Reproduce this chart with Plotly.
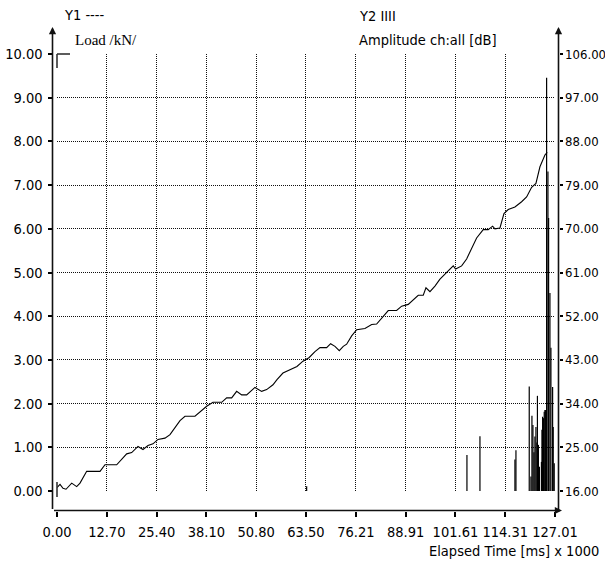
import plotly.graph_objects as go

# ---------------- data ----------------
load_time = [0.00, 0.77, 1.53, 2.30, 3.75, 5.02, 5.87, 7.57, 10.97, 12.24, 15.22, 17.77, 19.05,
             20.66, 21.93, 23.21, 24.48, 25.76, 27.54, 28.82, 31.37, 32.64, 35.19, 38.17, 39.78,
             42.00, 43.27, 44.55, 45.82, 47.10, 48.37, 50.49, 52.20, 53.47, 55.08, 56.10, 57.63,
             59.42, 61.20, 62.73, 64.26, 65.79, 67.07, 68.77, 69.79, 70.89, 71.99, 73.01, 73.87,
             75.15, 76.43, 78.54, 80.25, 81.52, 83.21, 84.48, 86.62, 87.90, 89.58, 92.13, 93.41,
             94.10, 95.12, 96.39, 97.67, 99.37, 101.06, 101.67, 103.20, 104.47, 105.75, 107.02,
             108.71, 109.98, 111.10, 111.69, 112.97, 113.99, 115.08, 116.79, 118.50, 119.77,
             121.05, 122.15, 123.17, 124.44, 125.03]
load_kn = [0.08, 0.15, 0.06, 0.04, 0.18, 0.10, 0.18, 0.45, 0.45, 0.60, 0.60, 0.85, 0.88,
           1.02, 0.95, 1.04, 1.08, 1.18, 1.21, 1.29, 1.61, 1.71, 1.71, 1.94, 2.03,
           2.03, 2.13, 2.13, 2.28, 2.20, 2.20, 2.37, 2.28, 2.32, 2.43, 2.55, 2.70,
           2.78, 2.85, 2.97, 3.05, 3.19, 3.28, 3.28, 3.37, 3.31, 3.21, 3.31, 3.36,
           3.55, 3.69, 3.72, 3.81, 3.82, 4.00, 4.13, 4.13, 4.23, 4.27, 4.48, 4.48,
           4.65, 4.56, 4.69, 4.85, 5.00, 5.15, 5.08, 5.15, 5.31, 5.54, 5.79,
           5.98, 5.98, 6.06, 6.00, 6.02, 6.35, 6.44, 6.50, 6.62, 6.73,
           6.95, 7.04, 7.42, 7.69, 7.75]

hit_time = [63.67, 104.55, 107.87, 116.79, 117.05, 120.44,
            120.87, 121.13, 121.38, 121.64, 121.89, 122.15, 122.40, 122.53, 122.78, 123.04,
            123.55, 123.68, 123.85, 124.06, 124.26, 124.44, 124.62,
            124.87, 125.21, 125.38, 125.72, 125.97, 126.40, 126.55, 126.81]
hit_db = [17.0, 23.4, 27.3, 22.5, 24.4, 37.5,
          19.0, 31.5, 29.6, 24.0, 27.2, 29.2, 26.0, 35.6, 25.5, 21.0,
          22.0, 28.6, 31.3, 31.0, 32.3, 32.7, 32.7,
          101.1, 81.8, 72.2, 56.8, 45.5, 37.4, 29.2, 21.7]
db_base = 16.0

x_ticks = [0.00, 12.70, 25.40, 38.10, 50.80, 63.50, 76.21, 88.91, 101.61, 114.31, 127.01]
x_tick_text = ["0.00", "12.70", "25.40", "38.10", "50.80", "63.50", "76.21", "88.91",
               "101.61", "114.31", "127.01"]
y1_ticks = [0, 1, 2, 3, 4, 5, 6, 7, 8, 9, 10]
y2_ticks = [16, 25, 34, 43, 52, 61, 70, 79, 88, 97, 106]

# ---------------- geometry (pixels) ----------------
W, H = 605, 563
def px(x):
    return x / W
def py(y):
    return 1 - y / H

PL, PR, PT, PB = 57, 555, 54, 491   # plot area
AXL, AXR, AXB = 52.5, 558.5, 510.5  # axis lines

FONT = "DejaVu Sans Condensed, DejaVu Sans, sans-serif"
FS = 14.5

# amplitude bars as vertical segments
bx, by = [], []
for t, a in zip(hit_time, hit_db):
    bx += [t, t, None]
    by += [db_base, a, None]

fig = go.Figure()
fig.add_trace(go.Scatter(x=bx, y=by, mode="lines", yaxis="y2",
                         line=dict(color="#000000", width=1.2), showlegend=False,
                         hoverinfo="skip"))
fig.add_trace(go.Scatter(x=load_time, y=load_kn, mode="lines",
                         line=dict(color="#000000", width=1.1), showlegend=False))

grid = dict(showgrid=True, gridcolor="#111111", griddash="1px,1px", gridwidth=1)

fig.update_layout(
    width=W, height=H,
    margin=dict(l=0, r=0, t=0, b=0, autoexpand=False),
    paper_bgcolor="white", plot_bgcolor="white",
    font=dict(family=FONT, size=FS, color="#000000"),
    showlegend=False,
    xaxis=dict(domain=[px(PL), px(PR)], range=[0, 127.01], anchor="free",
               position=py(AXB), tickvals=x_ticks, ticktext=x_tick_text, tickangle=0,
               ticks="outside", ticklen=5, tickcolor="#000", tickwidth=1.5, automargin=False,
               showline=False, zeroline=False, ticklabelstandoff=3, **grid),
    yaxis=dict(domain=[py(PB), py(PT)], range=[0, 10], anchor="free",
               position=px(AXL), tickvals=y1_ticks, tickformat=".2f", automargin=False,
               ticks="outside", ticklen=5, tickcolor="#000", tickwidth=1.5,
               showline=False, zeroline=False, ticklabelstandoff=2, **grid),
    yaxis2=dict(domain=[py(PB), py(PT)], range=[16, 106], overlaying="y",
                side="right", anchor="free", position=px(AXR), automargin=False,
                tickvals=y2_ticks, tickformat=".2f", tickfont=dict(size=13),
                ticks="outside", ticklen=3, tickcolor="#000", tickwidth=1.5,
                showline=False, zeroline=False, showgrid=False, ticklabelstandoff=0),
)

# axis lines with arrows
arrow = dict(showarrow=True, arrowhead=2, arrowsize=0.9, arrowwidth=1.6,
             arrowcolor="#111111", text="", xref="paper", yref="paper",
             axref="pixel", ayref="pixel", standoff=0)
fig.add_annotation(x=px(AXL), y=py(27), ax=0, ay=AXB - 27, **arrow)
fig.add_annotation(x=px(AXR), y=py(27), ax=0, ay=AXB - 27, **arrow)
fig.add_annotation(x=px(562), y=py(AXB), ax=-(562 - AXL), ay=0, **arrow)

# little solid corner at top-left of the plot frame
fig.add_shape(type="line", xref="paper", yref="paper", x0=px(PL), x1=px(PL + 13),
              y0=py(PT), y1=py(PT), line=dict(color="#333", width=1.6))
fig.add_shape(type="line", xref="paper", yref="paper", x0=px(PL), x1=px(PL),
              y0=py(PT), y1=py(PT + 14), line=dict(color="#333", width=1.6))
fig.add_shape(type="line", xref="paper", yref="paper", x0=px(PL), x1=px(PL),
              y0=py(482), y1=py(497), line=dict(color="#333", width=1.6))

def label(text, x, y, anchor="left", family=FONT, size=FS):
    fig.add_annotation(text=text, x=px(x), y=py(y), xref="paper", yref="paper",
                       xanchor=anchor, yanchor="middle", showarrow=False,
                       font=dict(family=family, size=size, color="#000"))

label("Y1 ----", 62, 15)
label("Load /kN/", 73, 40, family="Liberation Serif, Times New Roman, serif", size=15)
label("Y2 IIII", 357, 16)
label("Amplitude ch:all [dB]", 357, 40)
label("Elapsed Time [ms] x 1000", 601, 551, anchor="right")

fig.write_html("out.html", config={"displayModeBar": False},
               post_script="document.body.style.margin='0';document.body.style.overflow='hidden';")
